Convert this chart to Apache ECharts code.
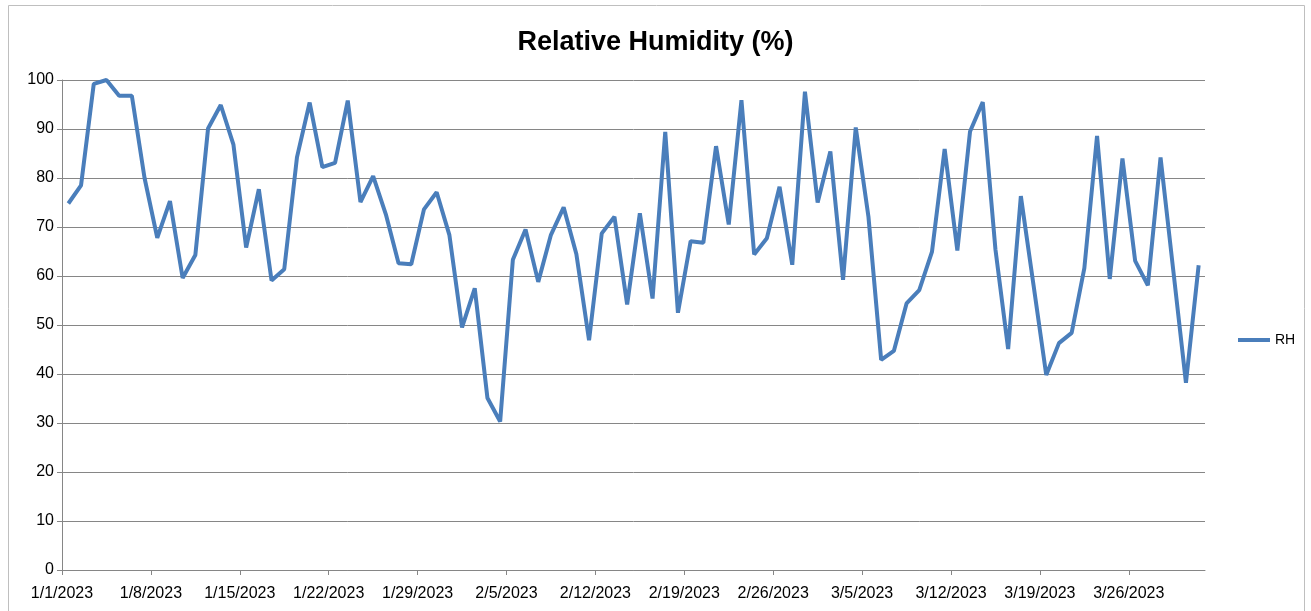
<!DOCTYPE html>
<html>
<head>
<meta charset="utf-8">
<title>Relative Humidity</title>
<script src="https://cdn.jsdelivr.net/npm/echarts@6/dist/echarts.min.js"></script>
<style>
  html, body { margin: 0; padding: 0; background: #fff; }
  #main { width: 1311px; height: 611px; }
</style>
</head>
<body>
<div id="main"></div>
<script>
// daily RH readings, 1/1/2023 .. 3/31/2023
var rh = [
  74.8, 78.5, 99.2, 100, 96.8, 96.8, 80.0, 67.8, 75.3, 59.6,
  64.3, 90.1, 94.9, 86.8, 65.8, 77.7, 59.1, 61.4, 84.2, 95.4,
  82.2, 83.1, 95.8, 75.1, 80.4, 72.6, 62.6, 62.4, 73.6, 77.1,
  68.4, 49.5, 57.5, 35.1, 30.3, 63.3, 69.5, 58.8, 68.4, 74.0,
  64.5, 46.9, 68.7, 72.1, 54.2, 72.8, 55.4, 89.4, 52.5, 67.1,
  66.8, 86.5, 70.5, 95.9, 64.4, 67.7, 78.2, 62.3, 97.6, 75.0,
  85.4, 59.2, 90.3, 72.1, 42.9, 44.7, 54.4, 57.1, 64.9, 85.9,
  65.2, 89.5, 95.5, 65.4, 45.1, 76.3, 58.1, 39.8, 46.3, 48.4,
  61.6, 88.6, 59.4, 84.0, 63.1, 58.1, 84.2, 61.2, 38.2, 62.2
];
var tickDays = [0, 7, 14, 21, 28, 35, 42, 49, 56, 63, 70, 77, 84];
var tickLabels = ['1/1/2023', '1/8/2023', '1/15/2023', '1/22/2023', '1/29/2023',
  '2/5/2023', '2/12/2023', '2/19/2023', '2/26/2023', '3/5/2023',
  '3/12/2023', '3/19/2023', '3/26/2023'];

var gridColor = '#868686';
var lineColor = '#4a7ebb';
var font = 'Liberation Sans, Arial, sans-serif';

var chart = echarts.init(document.getElementById('main'));
chart.setOption({
  backgroundColor: '#fff',
  animation: false,
  title: {
    text: 'Relative Humidity (%)',
    left: 'center',
    top: 24,
    textStyle: { fontFamily: font, fontSize: 27, fontWeight: 'bold', color: '#000' }
  },
  legend: {
    orient: 'vertical',
    left: 1233,
    top: 328,
    itemWidth: 32,
    itemHeight: 4,
    itemGap: 5,
    textStyle: { fontFamily: font, fontSize: 14, color: '#000' },
    data: [{ name: 'RH', icon: 'rect' }]
  },
  grid: { left: 62, right: 106, top: 80, bottom: 41 },
  xAxis: {
    type: 'value',
    min: 0,
    max: 90,
    interval: 7,
    axisLine: { show: true, lineStyle: { color: gridColor, width: 1 } },
    axisTick: { show: true, length: 5, lineStyle: { color: gridColor }, customValues: tickDays },
    splitLine: { show: false },
    axisLabel: {
      margin: 16,
      fontFamily: font,
      fontSize: 16,
      color: '#000',
      customValues: tickDays,
      formatter: function (v) {
        var k = tickDays.indexOf(v);
        return k >= 0 ? tickLabels[k] : '';
      }
    }
  },
  yAxis: {
    type: 'value',
    min: 0,
    max: 100,
    interval: 10,
    axisLine: { show: true, lineStyle: { color: gridColor, width: 1 } },
    axisTick: { show: true, length: 5, lineStyle: { color: gridColor } },
    splitLine: { show: true, lineStyle: { color: gridColor, width: 1 } },
    axisLabel: { margin: 8, fontFamily: font, fontSize: 16, color: '#000' }
  },
  series: [{
    name: 'RH',
    type: 'line',
    symbol: 'none',
    color: lineColor,
    lineStyle: { width: 4, color: lineColor },
    data: rh.map(function (v, i) { return [i + 0.5, v]; })
  }],
  graphic: [{
    type: 'rect',
    shape: { x: 8.5, y: 5.5, width: 1296, height: 640 },
    style: { fill: null, stroke: '#bfbfbf', lineWidth: 1 },
    silent: true
  }]
});
</script>
</body>
</html>
